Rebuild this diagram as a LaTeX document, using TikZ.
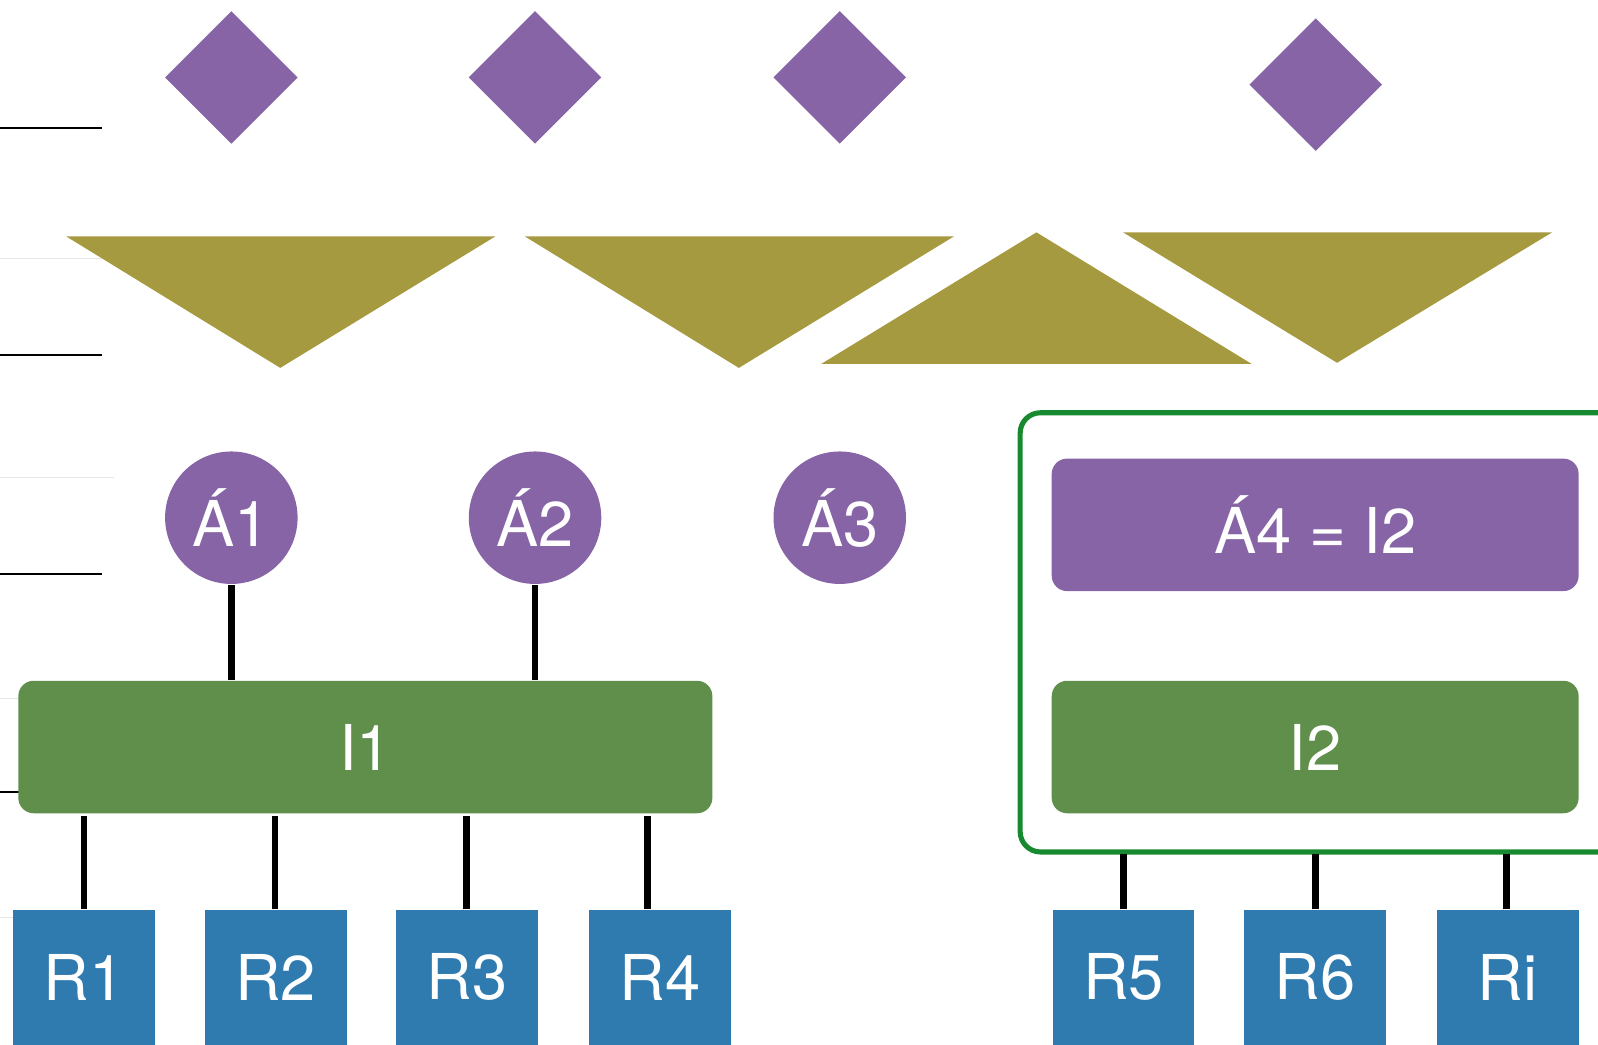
\documentclass[tikz,border=0pt]{standalone}
\usepackage{fontspec}
\setmainfont{TeX Gyre Heros}
\definecolor{purp}{HTML}{8764A6}
\definecolor{oliv}{HTML}{A69A40}
\definecolor{grn}{HTML}{5F8F4B}
\definecolor{blu}{HTML}{2F7BB0}
\definecolor{outl}{HTML}{178A30}
\definecolor{lgray}{HTML}{E6E6E6}
\def\u{0.25pt}
\tikzset{
  lbl/.style={text=white,font=\fontsize{15.5}{15.5}\selectfont},
  circnode/.style={lbl,circle,fill=purp,minimum size=130*\u,inner sep=0},
  ibox/.style={lbl,fill=grn,rounded corners=15*\u,minimum height=130*\u,inner sep=0},
  abox/.style={lbl,fill=purp,rounded corners=15*\u,minimum height=130*\u,inner sep=0},
  rbox/.style={lbl,fill=blu,minimum width=139*\u,minimum height=132*\u,inner sep=0},
  conn/.style={line width=6.5*\u,black},
  dia/.style={fill=purp},
  tri/.style={fill=oliv},
  guide/.style={line width=2*\u,black},
  lguide/.style={line width=1*\u,lgray}
}
\begin{document}
\begin{tikzpicture}[x=\u,y=-\u]
\useasboundingbox (0,0) rectangle (1568,1025);
% left guide lines
\foreach \yy in {254,469,685,900} \draw[lguide] (0,\yy) -- (112,\yy);
\foreach \yy in {126,348,563,777} \draw[guide] (0,\yy) -- (100,\yy);
% diamonds
\foreach \cx/\cy in {227/76,525/76,824/76,1291/83}
  \fill[dia] (\cx-65,\cy) -- (\cx,\cy-65) -- (\cx+65,\cy) -- (\cx,\cy+65) -- cycle;
% triangles
\fill[tri] (65,232) -- (486,232) -- (275,361) -- cycle;
\fill[tri] (515,232) -- (936,232) -- (725,361) -- cycle;
\fill[tri] (806,357) -- (1228,357) -- (1017,228) -- cycle;
\fill[tri] (1102,228) -- (1523,228) -- (1312,356) -- cycle;
% circles
\node[circnode] (a1) at (227,508) {Á1};
\node[circnode] (a2) at (525,508) {Á2};
\node[circnode] (a3) at (824,508) {Á3};
% I1
\node[ibox,minimum width=681*\u] (i1) at (358.5,733) {I1};
% R boxes left
\node[rbox] (r1) at (82.5,959) {R1};
\node[rbox] (r2) at (270.5,959) {R2};
\node[rbox] (r3) at (458.5,959) {R3};
\node[rbox] (r4) at (647.5,959) {R4};
% right group
\draw[outl,line width=5*\u,rounded corners=20*\u] (1001,405) rectangle (1590,836);
\coordinate (gbot) at (1000,838);
\node[abox,minimum width=517*\u] (a4) at (1290.5,515) {Á4 = I2};
\node[ibox,minimum width=517*\u] (i2) at (1290.5,733) {I2};
\node[rbox] (r5) at (1102.5,959) {R5};
\node[rbox] (r6) at (1290.5,959) {R6};
\node[rbox] (ri) at (1479.5,959) {Ri};
% connectors
\draw[conn] (a1.south) -- (a1.south |- i1.north);
\draw[conn] (a2.south) -- (a2.south |- i1.north);
\draw[conn] (r1.north) -- ([yshift=-2*\u]r1.north |- i1.south);
\draw[conn] ([xshift=-0.5*\u]r2.north) -- ([xshift=-0.5*\u,yshift=-2*\u]r2.north |- i1.south);
\draw[conn] ([xshift=-0.5*\u]r3.north) -- ([xshift=-0.5*\u,yshift=-2*\u]r3.north |- i1.south);
\draw[conn] ([xshift=58*\u]r4.north west) -- ([xshift=58*\u,yshift=-2*\u]r4.north west |- i1.south);
\draw[conn] (r5.north) -- (r5.north |- gbot);
\draw[conn] (r6.north) -- (r6.north |- gbot);
\draw[conn] ([xshift=-1*\u]ri.north) -- ([xshift=-1*\u]ri.north |- gbot);
\end{tikzpicture}
\end{document}
